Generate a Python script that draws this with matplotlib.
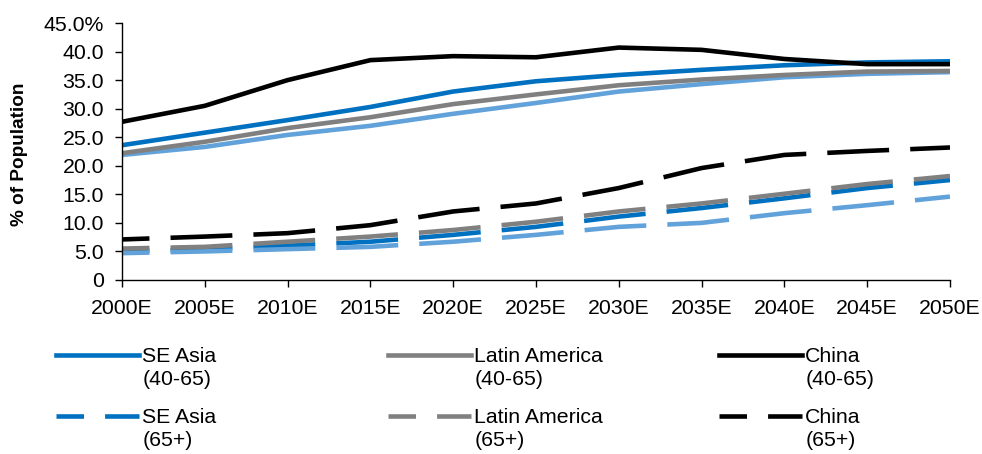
import matplotlib
matplotlib.use("Agg")
import matplotlib.pyplot as plt
from matplotlib.legend_handler import HandlerLine2D

plt.rcParams['font.family'] = ['Liberation Sans', 'DejaVu Sans']

years = ["2000E", "2005E", "2010E", "2015E", "2020E", "2025E",
         "2030E", "2035E", "2040E", "2045E", "2050E"]

# share of population, %
se_asia_40_65 = [23.6, 25.8, 28.0, 30.3, 33.0, 34.8, 35.9, 36.8, 37.6, 38.1, 38.3]
latam_40_65 = [22.2, 24.2, 26.6, 28.5, 30.8, 32.5, 34.1, 35.1, 35.9, 36.5, 36.6]
china_40_65 = [27.7, 30.5, 35.0, 38.5, 39.2, 39.0, 40.7, 40.3, 38.7, 37.8, 37.8]
other_40_65 = [21.9, 23.3, 25.4, 27.0, 29.1, 31.0, 33.0, 34.3, 35.5, 36.1, 36.4]

se_asia_65 = [5.0, 5.4, 6.0, 6.7, 7.9, 9.3, 11.1, 12.6, 14.3, 16.1, 17.5]
latam_65 = [5.5, 5.8, 6.7, 7.6, 8.75, 10.2, 12.0, 13.4, 15.1, 16.8, 18.2]
china_65 = [7.1, 7.6, 8.2, 9.6, 12.0, 13.4, 16.1, 19.6, 21.9, 22.6, 23.2]
other_65 = [4.7, 5.0, 5.4, 5.8, 6.7, 7.9, 9.3, 10.0, 11.7, 13.1, 14.6]

yticks = [0, 5, 10, 15, 20, 25, 30, 35, 40, 45]
ytick_labels = ["0", "5.0", "10.0", "15.0", "20.0", "25.0", "30.0", "35.0", "40.0", "45.0%"]

BLUE = "#0070C0"
GRAY = "#808080"
BLACK = "#000000"
LIGHT = "#62A2DA"
FS = 15.3


class FirstLineHandler(HandlerLine2D):
    # put the legend key level with the first line of a two-line label
    def create_artists(self, legend, orig_handle, xdescent, ydescent,
                       width, height, fontsize, trans):
        return super().create_artists(legend, orig_handle, xdescent,
                                      ydescent - 1.25 * fontsize, width, height,
                                      fontsize, trans)


fig = plt.figure(figsize=(9.82, 4.54), dpi=100)
ax = fig.add_axes([0.1242, 0.3833, 0.8432, 0.566])

x = list(range(len(years)))
lw = 3.3
dash = (7.5, (13.5, 4.6))

ax.plot(x, other_40_65, color=LIGHT, lw=lw)
ln_la, = ax.plot(x, latam_40_65, color=GRAY, lw=lw)
ln_se, = ax.plot(x, se_asia_40_65, color=BLUE, lw=lw)
ln_cn, = ax.plot(x, china_40_65, color=BLACK, lw=lw)

ld_se, = ax.plot(x, se_asia_65, color=BLUE, lw=lw, ls=dash)
ax.plot(x, other_65, color=LIGHT, lw=lw, ls=dash)
ld_la, = ax.plot(x, latam_65, color=GRAY, lw=lw, ls=dash)
ld_cn, = ax.plot(x, china_65, color=BLACK, lw=lw, ls=dash)

ax.set_xlim(0, len(years) - 1)
ax.set_ylim(0, 45)
ax.set_xticks(x)
ax.set_xticklabels(years)
ax.set_yticks(yticks)
ax.set_yticklabels(ytick_labels)
ax.tick_params(axis='x', direction='out', length=5, width=1, pad=9, labelsize=FS)
ax.tick_params(axis='y', direction='out', length=5, width=1, pad=8, labelsize=FS)
for side in ['top', 'right']:
    ax.spines[side].set_visible(False)
for side in ['left', 'bottom']:
    ax.spines[side].set_linewidth(1)

ax.set_ylabel("% of Population", fontsize=13.6, fontweight='bold')
ax.yaxis.set_label_coords(-0.114, 0.49)

# one small legend per region, two entries each
groups = [
    ([ln_se, ld_se], ["SE Asia\n(40-65)", "SE Asia\n(65+)"], 0.057),
    ([ln_la, ld_la], ["Latin America\n(40-65)", "Latin America\n(65+)"], 0.395),
    ([ln_cn, ld_cn], ["China\n(40-65)", "China\n(65+)"], 0.732),
]
for handles, labels, xpos in groups:
    leg = fig.legend(handles, labels, loc='upper left', bbox_to_anchor=(xpos, 0.236),
                     frameon=False, fontsize=FS, handlelength=3.9,
                     handletextpad=0.17, labelspacing=0.9, borderpad=0,
                     borderaxespad=0,
                     handler_map={h: FirstLineHandler() for h in handles})
    for t in leg.get_texts():
        t.set_linespacing(1.28)

fig.savefig("out.png", dpi=100)
